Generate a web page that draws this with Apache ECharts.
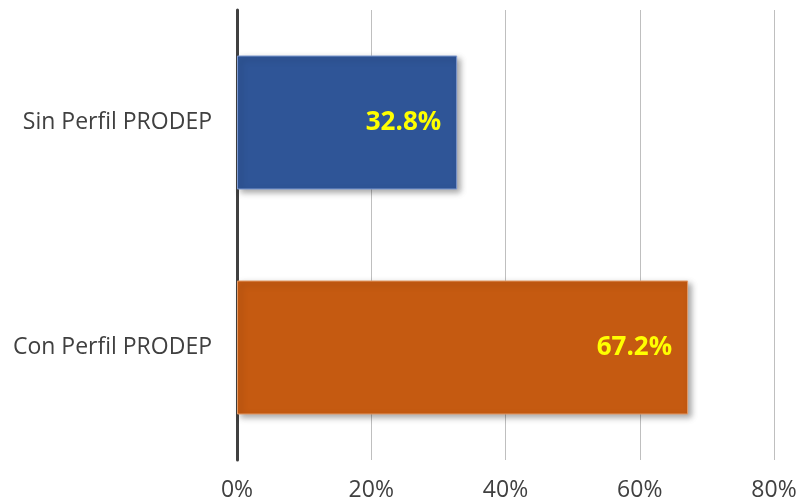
<!DOCTYPE html>
<html>
<head>
<meta charset="utf-8">
<script src="https://cdn.jsdelivr.net/npm/echarts@6/dist/echarts.min.js"></script>
<style>
  html, body { margin: 0; padding: 0; background: #fff; }
  #chart { width: 800px; height: 502px; }
</style>
</head>
<body>
<div id="chart"></div>
<script>
// categorias y porcentajes
const categories = ['Sin Perfil PRODEP', 'Con Perfil PRODEP']
const values = [32.8, 67.2]
const barColors = ['#2F5597', '#C55A11']
const barEdges = ['#7f9ad0', '#e39a66']

const chart = echarts.init(document.getElementById('chart'), null, { renderer: 'canvas' })

const option = {
  backgroundColor: '#fff',
  textStyle: { fontFamily: '"Open Sans", sans-serif' },
  grid: {
    left: 237,
    right: 26,
    top: 10,
    bottom: 42
  },
  xAxis: {
    type: 'value',
    min: 0,
    max: 80,
    interval: 20,
    axisLine: { show: false },
    axisTick: { show: false },
    splitLine: { lineStyle: { color: '#bfbfbf', width: 1 } },
    axisLabel: {
      formatter: '{value}%',
      color: '#404040',
      fontSize: 23,
      margin: 19
    }
  },
  yAxis: {
    type: 'category',
    data: categories,
    inverse: true,
    axisLine: { lineStyle: { color: '#404040', width: 3 } },
    axisTick: { show: false },
    axisLabel: {
      color: '#404040',
      fontSize: 23,
      margin: 25
    }
  },
  series: [{
    type: 'bar',
    barWidth: 134,
    data: values.map((v, i) => ({
      value: v,
      itemStyle: {
        color: barColors[i],
        borderColor: barEdges[i],
        borderWidth: 1,
        shadowBlur: 6,
        shadowColor: 'rgba(0,0,0,0.35)',
        shadowOffsetX: 3,
        shadowOffsetY: 3
      }
    })),
    label: {
      show: true,
      position: 'insideRight',
      distance: 16,
      formatter: p => p.value.toFixed(1) + '%',
      color: '#FFFF00',
      fontWeight: 'bold',
      fontSize: 26
    }
  }]
}

chart.setOption(option)
</script>
</body>
</html>
